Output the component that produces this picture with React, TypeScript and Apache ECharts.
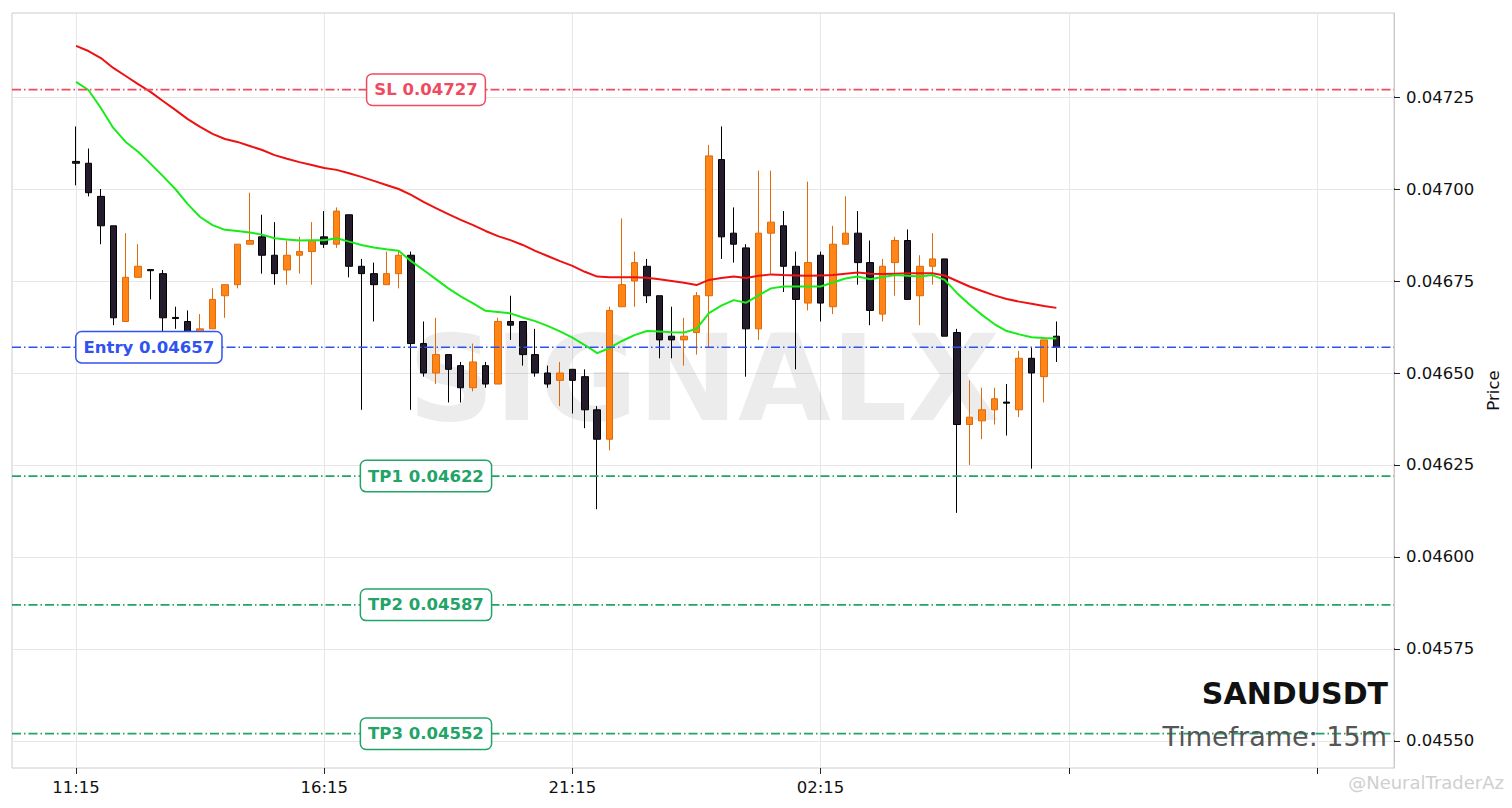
import React, { useEffect, useRef } from "react";
import * as echarts from "echarts";

// [open, close, low, high] per 15m candle, starting 11:15
const candles: number[][] = [
  [0.047075, 0.04707, 0.04701, 0.04717],
  [0.04707, 0.04699, 0.04698, 0.04711],
  [0.04698, 0.0469, 0.04685, 0.047],
  [0.0469, 0.04665, 0.04663, 0.0469],
  [0.04664, 0.04676, 0.04664, 0.04688],
  [0.04676, 0.04679, 0.04676, 0.04685],
  [0.046781, 0.046778, 0.0467, 0.046782],
  [0.04677, 0.04665, 0.04661, 0.04678],
  [0.046651, 0.046648, 0.04662, 0.04668],
  [0.04664, 0.0466, 0.04659, 0.04667],
  [0.0466, 0.04662, 0.04659, 0.04666],
  [0.04662, 0.0467, 0.04662, 0.04673],
  [0.04671, 0.04674, 0.04665, 0.04674],
  [0.04674, 0.04685, 0.04673, 0.04685],
  [0.04685, 0.04686, 0.04685, 0.04699],
  [0.04687, 0.04682, 0.04677, 0.04693],
  [0.04682, 0.04677, 0.04674, 0.04691],
  [0.04678, 0.04682, 0.04674, 0.04686],
  [0.04682, 0.04683, 0.04677, 0.04687],
  [0.04683, 0.04686, 0.04674, 0.04691],
  [0.04687, 0.04685, 0.04684, 0.04694],
  [0.04685, 0.04694, 0.04684, 0.04695],
  [0.04693, 0.04679, 0.04676, 0.04693],
  [0.04679, 0.04677, 0.0464, 0.04681],
  [0.04677, 0.04674, 0.04664, 0.0468],
  [0.04674, 0.04677, 0.04674, 0.04683],
  [0.04677, 0.04682, 0.04673, 0.04683],
  [0.04682, 0.04658, 0.0464, 0.04683],
  [0.04658, 0.0465, 0.04649, 0.04664],
  [0.0465, 0.04655, 0.04647, 0.04665],
  [0.04655, 0.04651, 0.04642, 0.04655],
  [0.04652, 0.04646, 0.04642, 0.04653],
  [0.04646, 0.04653, 0.04645, 0.04658],
  [0.04652, 0.04647, 0.04646, 0.04653],
  [0.04647, 0.04664, 0.04647, 0.04665],
  [0.04664, 0.04663, 0.04659, 0.04671],
  [0.04664, 0.04655, 0.04652, 0.04664],
  [0.04655, 0.0465, 0.04649, 0.04662],
  [0.0465, 0.04647, 0.04646, 0.04652],
  [0.04648, 0.0465, 0.04641, 0.04653],
  [0.04651, 0.04648, 0.04639, 0.04651],
  [0.04649, 0.0464, 0.04635, 0.04651],
  [0.0464, 0.04632, 0.04613, 0.04641],
  [0.04632, 0.04667, 0.04629, 0.04668],
  [0.04668, 0.04674, 0.04668, 0.04692],
  [0.04675, 0.0468, 0.04668, 0.04683],
  [0.04679, 0.04671, 0.04669, 0.04681],
  [0.04671, 0.04659, 0.04654, 0.04671],
  [0.0466, 0.04659, 0.04654, 0.04668],
  [0.04659, 0.0466, 0.04652, 0.04665],
  [0.04661, 0.04671, 0.04655, 0.04672],
  [0.04671, 0.04709, 0.04657, 0.04712],
  [0.04708, 0.04687, 0.04681, 0.04717],
  [0.04688, 0.04685, 0.0468, 0.04695],
  [0.04684, 0.04662, 0.04649, 0.04685],
  [0.04662, 0.04688, 0.04659, 0.04705],
  [0.04688, 0.04691, 0.04677, 0.04705],
  [0.0469, 0.04679, 0.04672, 0.04694],
  [0.04679, 0.0467, 0.04651, 0.04683],
  [0.04669, 0.0468, 0.04667, 0.04702],
  [0.04682, 0.04669, 0.04664, 0.04683],
  [0.04668, 0.04685, 0.04666, 0.0469],
  [0.04685, 0.04688, 0.04685, 0.04698],
  [0.04688, 0.0468, 0.04674, 0.04694],
  [0.0468, 0.04667, 0.04663, 0.04686],
  [0.04666, 0.04679, 0.04664, 0.04681],
  [0.0468, 0.04686, 0.04671, 0.04687],
  [0.04686, 0.0467, 0.0467, 0.04689],
  [0.04671, 0.04679, 0.04663, 0.04682],
  [0.04679, 0.04681, 0.04674, 0.04688],
  [0.04681, 0.0466, 0.0466, 0.04681],
  [0.04661, 0.04636, 0.04612, 0.04662],
  [0.04636, 0.04638, 0.04625, 0.04648],
  [0.04637, 0.0464, 0.04632, 0.04646],
  [0.0464, 0.04643, 0.04636, 0.04646],
  [0.046421, 0.046418, 0.04633, 0.04647],
  [0.0464, 0.04654, 0.04638, 0.04656],
  [0.04654, 0.0465, 0.04624, 0.04657],
  [0.04649, 0.04659, 0.04642, 0.04659],
  [0.0466, 0.04657, 0.04653, 0.04664],
];

const emaFast: number[] = [
  0.047291, 0.047269, 0.04722, 0.047166, 0.047128, 0.047101, 0.047069, 0.047035, 0.047, 0.046959,
  0.046924, 0.046902, 0.046889, 0.046886, 0.046882, 0.046876, 0.046866, 0.046863, 0.04686, 0.046861,
  0.046861, 0.046866, 0.046857, 0.046848, 0.046841, 0.046836, 0.046832, 0.046804, 0.04678, 0.046755,
  0.04673, 0.046708, 0.046689, 0.046669, 0.046666, 0.046662, 0.046651, 0.046641, 0.046628, 0.046613,
  0.046596, 0.046576, 0.046554, 0.046568, 0.046587, 0.046603, 0.046614, 0.046613, 0.046611, 0.04661,
  0.04662, 0.046663, 0.046683, 0.046698, 0.046691, 0.046711, 0.04673, 0.046735, 0.046735, 0.046735,
  0.046735, 0.046746, 0.046757, 0.046762, 0.046755, 0.046761, 0.046766, 0.046764, 0.046762, 0.046766,
  0.046753, 0.046717, 0.046686, 0.046658, 0.046633, 0.046614, 0.046605, 0.046597, 0.046595, 0.046594,
];

const emaSlow: number[] = [
  0.047389, 0.047375, 0.047356, 0.047329, 0.047307, 0.047285, 0.047264, 0.047239, 0.047215, 0.04719,
  0.047169, 0.04715, 0.047136, 0.047128, 0.047117, 0.047106, 0.047092, 0.047082, 0.047073, 0.047065,
  0.047057, 0.047052, 0.047043, 0.047033, 0.047022, 0.047011, 0.047, 0.046984, 0.046965, 0.046948,
  0.046932, 0.046916, 0.046902, 0.046886, 0.046872, 0.046861, 0.046848, 0.046832, 0.046818, 0.046804,
  0.046791, 0.046775, 0.046762, 0.04676, 0.04676, 0.04676, 0.046759, 0.046755, 0.04675, 0.046745,
  0.046739, 0.046753, 0.046758, 0.046762, 0.046758, 0.046764, 0.046768, 0.046766, 0.046765, 0.046764,
  0.046765, 0.046766, 0.04677, 0.046773, 0.04677, 0.046769, 0.04677, 0.046771, 0.046771, 0.046771,
  0.046765, 0.04675, 0.046735, 0.046723, 0.046711, 0.046701, 0.046694, 0.046688, 0.046682, 0.046677,
];

const xTickIndex = [0, 20, 40, 60, 80, 100];
const xTickLabels = ["11:15", "16:15", "21:15", "02:15", "", ""];
const yTicks = [0.0455, 0.04575, 0.046, 0.04625, 0.0465, 0.04675, 0.047, 0.04725];
const levelNames = ["SL", "Entry", "TP1", "TP2", "TP3"];
const levelPrices = [0.04727, 0.04657, 0.04622, 0.04587, 0.04552];
const symbolName = "SANDUSDT";
const timeframe = "15m";

const FONT = "DejaVu Sans";
const X_MIN = -5.161;
const X_MAX = 106.21;
const Y_TICK_LEN = 0.5; // in x units, ~6px

function levelColor(name: string) {
  if (name === "SL") return "#f04a60";
  if (name === "Entry") return "#2f52f2";
  return "#22a468";
}

export default function App() {
  const ref = useRef<HTMLDivElement>(null);

  useEffect(() => {
    document.body.style.margin = "0";
    const chart = echarts.init(ref.current!, null, { renderer: "svg" });

    const levelSeries = levelPrices.map((p, k) => ({
      type: "line",
      name: levelNames[k],
      data: [
        [X_MIN, p],
        [X_MAX, p],
      ],
      showSymbol: false,
      symbol: "none",
      silent: true,
      z: 7,
      lineStyle: {
        color: levelColor(levelNames[k]),
        type: [9, 3, 1.5, 3],
        width: 1.7,
      },
    }));

    const tickData: any[] = [];
    yTicks.forEach((t) => {
      tickData.push([X_MAX, t]);
      tickData.push([X_MAX + Y_TICK_LEN, t]);
      tickData.push([X_MAX + Y_TICK_LEN, "-"]);
    });

    const option: any = {
      animation: false,
      backgroundColor: "#ffffff",
      textStyle: { fontFamily: FONT },
      grid: {
        left: 12,
        right: 118,
        top: 13,
        bottom: 40,
        show: true,
        borderColor: "#cccccc",
        borderWidth: 1,
        backgroundColor: "transparent",
      },
      xAxis: {
        type: "value",
        min: X_MIN,
        max: X_MAX,
        axisLine: { show: false, onZero: false },
        axisTick: {
          show: true,
          customValues: xTickIndex,
          length: 6,
          lineStyle: { color: "#222222" },
        },
        axisLabel: {
          customValues: xTickIndex,
          formatter: (v: number) => {
            const k = xTickIndex.indexOf(Math.round(v));
            return k >= 0 ? xTickLabels[k] : "";
          },
          fontSize: 16.5,
          fontFamily: FONT,
          color: "#111111",
          margin: 11,
        },
        splitLine: { show: true, lineStyle: { color: "#e6e6e6", width: 1 } },
      },
      yAxis: {
        type: "value",
        position: "right",
        min: 0.0454266,
        max: 0.0474783,
        axisLine: { show: true, onZero: false, lineStyle: { color: "#cccccc", width: 1 } },
        axisTick: {
          show: true,
          inside: false,
          customValues: yTicks,
          length: 6,
          lineStyle: { color: "#222222", width: 1 },
        },
        axisLabel: {
          customValues: yTicks,
          formatter: (v: number) => v.toFixed(5),
          fontSize: 16.5,
          fontFamily: FONT,
          color: "#111111",
          margin: 12,
        },
        splitLine: { show: true, lineStyle: { color: "#e6e6e6", width: 1 } },
        name: "Price",
        nameLocation: "middle",
        nameGap: 90,
        nameRotate: 90,
        nameTextStyle: { fontSize: 16.5, color: "#111111", fontFamily: FONT },
      },
      graphic: [
        {
          type: "text",
          x: 704,
          y: 378,
          z: 1,
          silent: true,
          style: {
            text: "SIGNALX",
            font: `bold 120px "${FONT}"`,
            fill: "rgba(0,0,0,0.075)",
            textAlign: "center",
            textVerticalAlign: "middle",
            align: "center",
            verticalAlign: "middle",
          },
        },
        {
          type: "text",
          x: 1388,
          y: 693,
          z: 20,
          style: {
            text: symbolName,
            font: `bold 30px "${FONT}"`,
            fill: "#111111",
            textAlign: "right",
            textVerticalAlign: "middle",
            align: "right",
            verticalAlign: "middle",
          },
        },
        {
          type: "text",
          x: 1387,
          y: 736,
          z: 20,
          style: {
            text: `Timeframe: ${timeframe}`,
            font: `27px "${FONT}"`,
            fill: "#555555",
            textAlign: "right",
            textVerticalAlign: "middle",
            align: "right",
            verticalAlign: "middle",
          },
        },
        {
          type: "text",
          x: 1504,
          y: 782,
          z: 20,
          style: {
            text: "@NeuralTraderAz",
            font: `18px "${FONT}"`,
            fill: "#cfcfcf",
            textAlign: "right",
            textVerticalAlign: "middle",
            align: "right",
            verticalAlign: "middle",
          },
        },
      ],
      series: [
        {
          type: "candlestick",
          name: symbolName,
          data: candles.map((c, i) => [i, c[0], c[1], c[2], c[3]]),
          encode: { x: 0, y: [1, 2, 3, 4] },
          barWidth: 7,
          z: 3,
          itemStyle: {
            color: "#ff8516",
            color0: "#241b2d",
            borderColor: "#e0690a",
            borderColor0: "#000000",
            borderWidth: 1,
          },
        },
        {
          type: "line",
          name: "EMA slow",
          data: emaSlow.map((v, i) => [i, v]),
          showSymbol: false,
          symbol: "none",
          z: 6,
          lineStyle: { color: "#ee1111", width: 2 },
        },
        {
          type: "line",
          name: "EMA fast",
          data: emaFast.map((v, i) => [i, v]),
          showSymbol: false,
          symbol: "none",
          z: 6,
          lineStyle: { color: "#18ec18", width: 2 },
        },
        ...levelSeries,
        {
          type: "line",
          name: "yTickMarks",
          data: tickData,
          clip: false,
          connectNulls: false,
          showSymbol: false,
          symbol: "none",
          silent: true,
          z: 8,
          lineStyle: { color: "#222222", width: 1 },
        },
        {
          type: "scatter",
          name: "levels",
          symbolSize: 1,
          z: 10,
          itemStyle: { color: "rgba(0,0,0,0)", opacity: 1 },
          data: levelPrices.map((p, k) => {
            const name = levelNames[k];
            const isEntry = name === "Entry";
            const col = levelColor(name);
            return {
              value: [isEntry ? 0 : 28.2, p],
              label: {
                show: true,
                position: isEntry ? "right" : "inside",
                distance: 0,
                formatter: `${name} ${p.toFixed(5)}`,
                color: col,
                opacity: 1,
                fontWeight: "bold",
                fontSize: 16.5,
                fontFamily: FONT,
                lineHeight: 18,
                backgroundColor: "#ffffff",
                borderColor: col,
                borderWidth: 1.5,
                borderRadius: 5,
                padding: [6, 7],
              },
            };
          }),
        },
      ],
    };

    chart.setOption(option);
    return () => chart.dispose();
  }, []);

  return (
    <div
      ref={ref}
      style={{ position: "fixed", left: 0, top: 0, width: 1512, height: 808, background: "#fff" }}
    />
  );
}
